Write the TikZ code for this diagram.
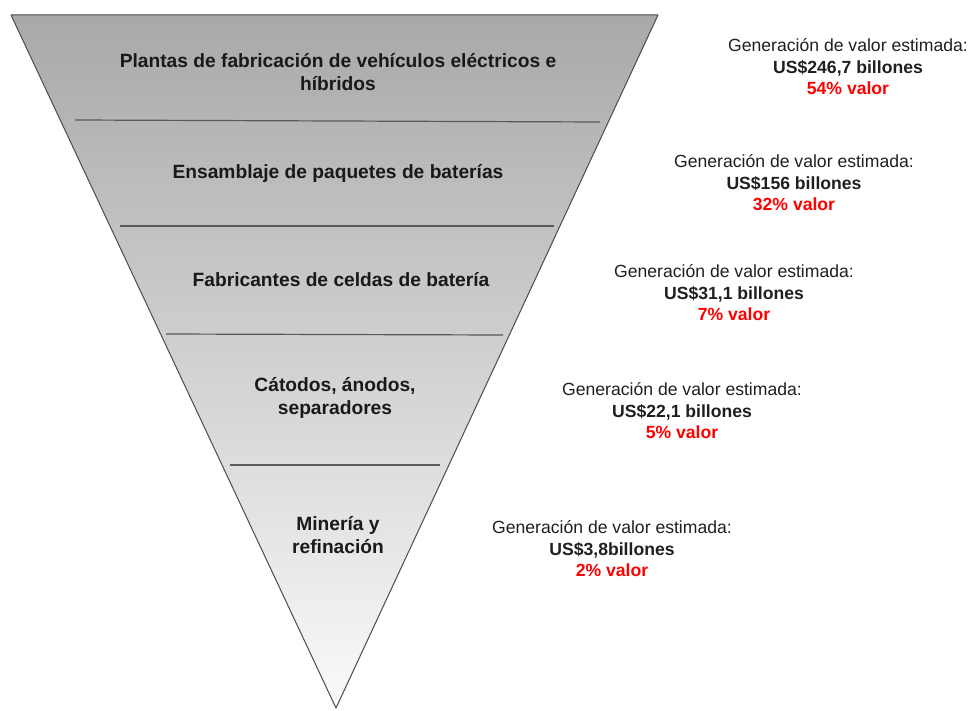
\documentclass[tikz,border=0pt]{standalone}
\usepackage{fontspec}
\setmainfont{Liberation Sans}
\begin{document}
\begin{tikzpicture}[x=1pt,y=-1pt,
  tier/.style={font=\bfseries\fontsize{19.2}{23.5}\selectfont, align=center, text=black!90, inner sep=0pt},
  sep/.style={draw=black!65, line width=1.2pt},
  info/.style={font=\fontsize{17.6}{21.5}\selectfont, align=center, text=black!88, inner sep=0pt},
  pct/.style={text=red, font=\bfseries}]
\useasboundingbox (0,0) rectangle (971,711);
\coordinate (tl) at (11,15);
\coordinate (tr) at (658,15);
\coordinate (ap) at (336,708);
\shade[top color=black!34, bottom color=black!2] (tl) -- (tr) -- (ap) -- cycle;
\draw[black!70, line width=1pt, line join=round] (tl) -- (tr) -- (ap) -- cycle;
\coordinate (a1) at (75,120); \coordinate (b1) at (600,122);
\coordinate (a2) at (120,226); \coordinate (b2) at (554,226);
\coordinate (a3) at (166,334); \coordinate (b3) at (503,335);
\coordinate (a4) at (230,465); \coordinate (b4) at (440,465);
\draw[sep] (a1) -- (b1);
\draw[sep] (a2) -- (b2);
\draw[sep] (a3) -- (b3);
\draw[sep] (a4) -- (b4);
\node[tier] (t1) at (338,72) {Plantas de fabricación de vehículos eléctricos e\\híbridos};
\node[tier] (t2) at (338,173) {Ensamblaje de paquetes de baterías};
\node[tier] (t3) at (341,280) {Fabricantes de celdas de batería};
\node[tier] (t4) at (335,398) {Cátodos, ánodos,\\separadores};
\node[tier] (t5) at (338,535) {Minería y\\refinación};
\node[info] (i1) at (848,67) {Generación de valor estimada:\\\textbf{US\$246,7 billones}\\{\color{red}\textbf{54\% valor}}};
\node[info] (i2) at (794,183) {Generación de valor estimada:\\\textbf{US\$156 billones}\\{\color{red}\textbf{32\% valor}}};
\node[info] (i3) at (734,293) {Generación de valor estimada:\\\textbf{US\$31,1 billones}\\{\color{red}\textbf{7\% valor}}};
\node[info] (i4) at (682,411) {Generación de valor estimada:\\\textbf{US\$22,1 billones}\\{\color{red}\textbf{5\% valor}}};
\node[info] (i5) at (612,549) {Generación de valor estimada:\\\textbf{US\$3,8billones}\\{\color{red}\textbf{2\% valor}}};
\end{tikzpicture}
\end{document}
